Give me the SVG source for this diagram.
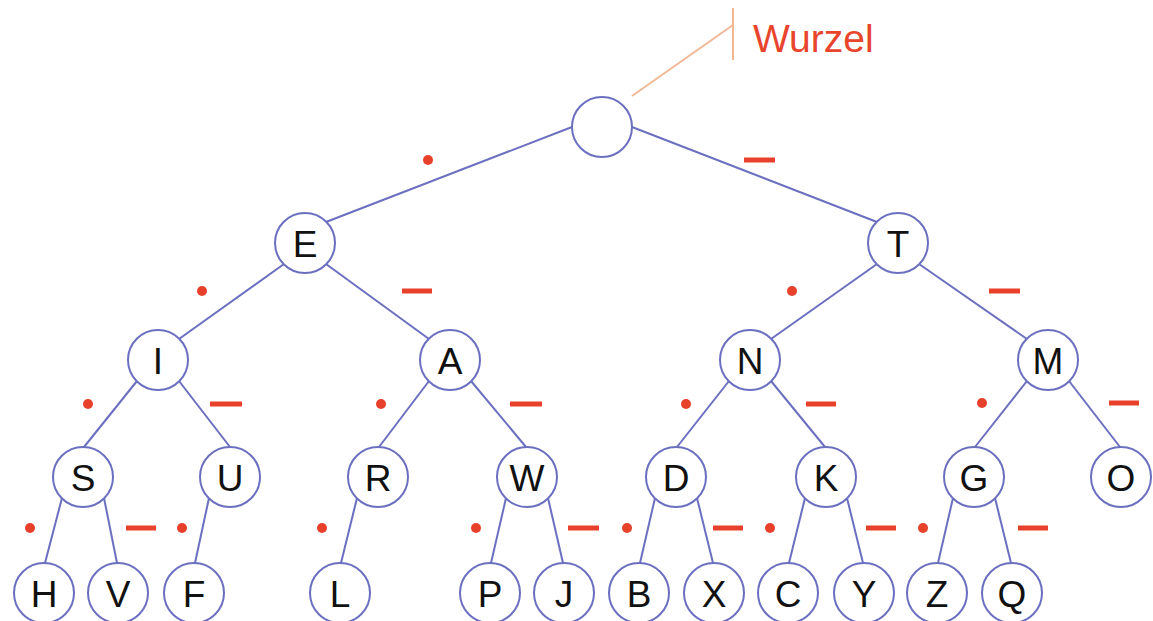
<svg xmlns="http://www.w3.org/2000/svg" width="1153" height="621" viewBox="0 0 1153 621">
<style>
.e{stroke:#6b6fbf;stroke-width:2;fill:none}
.n circle{fill:#fff;stroke:#6b6fbf;stroke-width:2}
.n text{font-family:"Liberation Sans",Arial,sans-serif;font-size:37px;fill:#111;text-anchor:middle}
.dot{fill:#e8412b}
.dash{stroke:#e8412b;stroke-width:5}
</style>
<rect width="1153" height="621" fill="#fff"/>
<g id="connectors" class="e">
<line x1="572" y1="127" x2="326" y2="222"/><line x1="632" y1="127" x2="877" y2="222"/>
<line x1="284" y1="264" x2="179" y2="339"/><line x1="326" y1="264" x2="429" y2="339"/>
<line x1="877" y1="264" x2="771" y2="339"/><line x1="919" y1="264" x2="1027" y2="339"/>
<line x1="137" y1="381" x2="84" y2="447"/><line x1="179" y1="381" x2="230" y2="447"/>
<line x1="429" y1="381" x2="379" y2="447"/><line x1="471" y1="381" x2="526" y2="447"/>
<line x1="729" y1="381" x2="677" y2="447"/><line x1="771" y1="381" x2="825" y2="447"/>
<line x1="1027" y1="381" x2="975" y2="447"/><line x1="1069" y1="381" x2="1120" y2="447"/>
<line x1="62" y1="498" x2="45" y2="563"/><line x1="104" y1="498" x2="117" y2="563"/>
<line x1="209" y1="498" x2="195" y2="563"/>
<line x1="357" y1="498" x2="341" y2="563"/>
<line x1="506" y1="498" x2="491" y2="563"/><line x1="548" y1="498" x2="563" y2="563"/>
<line x1="655" y1="498" x2="640" y2="563"/><line x1="697" y1="498" x2="713" y2="563"/>
<line x1="805" y1="498" x2="789" y2="563"/><line x1="847" y1="498" x2="863" y2="563"/>
<line x1="953" y1="498" x2="938" y2="563"/><line x1="995" y1="498" x2="1011" y2="563"/>
</g>
<g id="wurzel">
<line x1="632" y1="96" x2="733" y2="25" stroke="#f2b896" stroke-width="2"/>
<line x1="733" y1="8" x2="733" y2="60" stroke="#f2b896" stroke-width="2"/>
<text x="753" y="52" font-family="'Liberation Sans',Arial,sans-serif" font-size="39" fill="#e8452c">Wurzel</text>
</g>
<g id="root" class="n"><circle cx="602" cy="127" r="30"/></g>
<g id="nE" class="n"><circle cx="305" cy="243" r="30"/><text x="305" y="256.5">E</text></g>
<g id="nT" class="n"><circle cx="898" cy="243" r="30"/><text x="898" y="256.5">T</text></g>
<g id="nI" class="n"><circle cx="158" cy="360" r="30"/><text x="158" y="373.5">I</text></g>
<g id="nA" class="n"><circle cx="450" cy="360" r="30"/><text x="450" y="373.5">A</text></g>
<g id="nN" class="n"><circle cx="750" cy="360" r="30"/><text x="750" y="373.5">N</text></g>
<g id="nM" class="n"><circle cx="1048" cy="360" r="30"/><text x="1048" y="373.5">M</text></g>
<g id="nS" class="n"><circle cx="83" cy="477" r="30"/><text x="83" y="490.5">S</text></g>
<g id="nU" class="n"><circle cx="230" cy="477" r="30"/><text x="230" y="490.5">U</text></g>
<g id="nR" class="n"><circle cx="378" cy="477" r="30"/><text x="378" y="490.5">R</text></g>
<g id="nW" class="n"><circle cx="527" cy="477" r="30"/><text x="527" y="490.5">W</text></g>
<g id="nD" class="n"><circle cx="676" cy="477" r="30"/><text x="676" y="490.5">D</text></g>
<g id="nK" class="n"><circle cx="826" cy="477" r="30"/><text x="826" y="490.5">K</text></g>
<g id="nG" class="n"><circle cx="974" cy="477" r="30"/><text x="974" y="490.5">G</text></g>
<g id="nO" class="n"><circle cx="1121" cy="477" r="30"/><text x="1121" y="490.5">O</text></g>
<g id="nH" class="n"><circle cx="44" cy="593" r="30"/><text x="44" y="606.5">H</text></g>
<g id="nV" class="n"><circle cx="118" cy="593" r="30"/><text x="118" y="606.5">V</text></g>
<g id="nF" class="n"><circle cx="194" cy="593" r="30"/><text x="194" y="606.5">F</text></g>
<g id="nL" class="n"><circle cx="340" cy="593" r="30"/><text x="340" y="606.5">L</text></g>
<g id="nP" class="n"><circle cx="490" cy="593" r="30"/><text x="490" y="606.5">P</text></g>
<g id="nJ" class="n"><circle cx="564" cy="593" r="30"/><text x="564" y="606.5">J</text></g>
<g id="nB" class="n"><circle cx="639" cy="593" r="30"/><text x="639" y="606.5">B</text></g>
<g id="nX" class="n"><circle cx="714" cy="593" r="30"/><text x="714" y="606.5">X</text></g>
<g id="nC" class="n"><circle cx="788" cy="593" r="30"/><text x="788" y="606.5">C</text></g>
<g id="nY" class="n"><circle cx="864" cy="593" r="30"/><text x="864" y="606.5">Y</text></g>
<g id="nZ" class="n"><circle cx="937" cy="593" r="30"/><text x="937" y="606.5">Z</text></g>
<g id="nQ" class="n"><circle cx="1012" cy="593" r="30"/><text x="1012" y="606.5">Q</text></g>
<g id="marks">
<circle class="dot" cx="428" cy="160" r="5"/><line class="dash" x1="744" y1="160" x2="775" y2="160"/>
<circle class="dot" cx="202" cy="291" r="5"/><line class="dash" x1="402" y1="291" x2="432" y2="291"/>
<circle class="dot" cx="792" cy="291" r="5"/><line class="dash" x1="989" y1="291" x2="1020" y2="291"/>
<circle class="dot" cx="88" cy="404" r="5"/><line class="dash" x1="210" y1="404" x2="242" y2="404"/>
<circle class="dot" cx="381" cy="404" r="5"/><line class="dash" x1="510" y1="404" x2="542" y2="404"/>
<circle class="dot" cx="686" cy="404" r="5"/><line class="dash" x1="806" y1="404" x2="836" y2="404"/>
<circle class="dot" cx="982" cy="403" r="5"/><line class="dash" x1="1109" y1="403" x2="1139" y2="403"/>
<circle class="dot" cx="30" cy="528" r="5"/><line class="dash" x1="126" y1="528" x2="156" y2="528"/>
<circle class="dot" cx="182" cy="528" r="5"/>
<circle class="dot" cx="322" cy="528" r="5"/>
<circle class="dot" cx="476" cy="528" r="5"/><line class="dash" x1="568" y1="528" x2="599" y2="528"/>
<circle class="dot" cx="627" cy="528" r="5"/><line class="dash" x1="713" y1="528" x2="743" y2="528"/>
<circle class="dot" cx="770" cy="528" r="5"/><line class="dash" x1="866" y1="528" x2="896" y2="528"/>
<circle class="dot" cx="923" cy="528" r="5"/><line class="dash" x1="1018" y1="528" x2="1048" y2="528"/>
</g>
</svg>
